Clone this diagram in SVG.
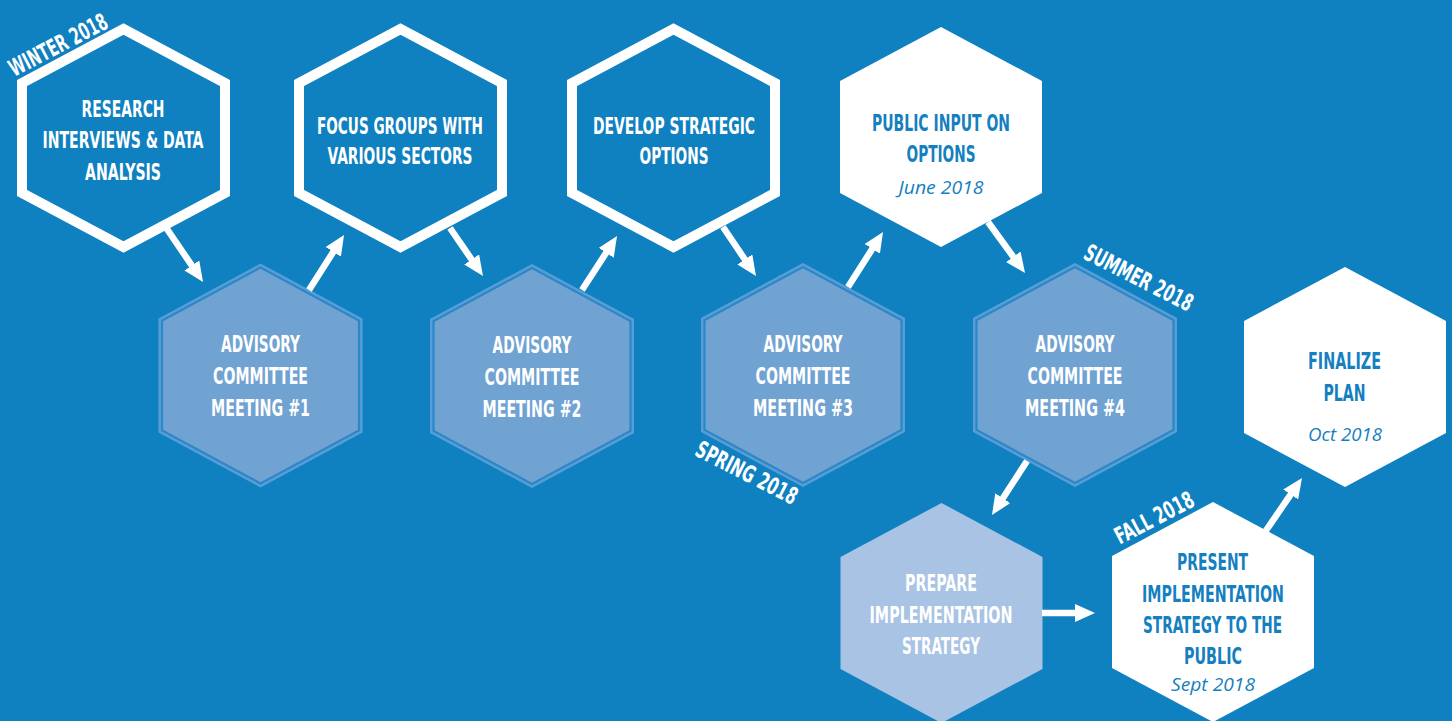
<svg xmlns="http://www.w3.org/2000/svg" width="1452" height="721" viewBox="0 0 1452 721">
<style>
.bg{fill:#0f80c0}
.hexO{fill:none;stroke:#ffffff;stroke-width:10;stroke-linejoin:miter}
.hexW{fill:#ffffff}
.ring{fill:#5a9dd6}
.gap{fill:#2a88c8}
.adv{fill:#70a2d2}
.prep{fill:#a8c3e3}
.t{font-family:"Liberation Sans Narrow","DejaVu Sans Condensed","Liberation Sans",sans-serif;font-weight:bold;font-size:23.5px;text-anchor:middle}
.w{fill:#ffffff}
.b{fill:#157fc0}
.d{font-family:"Open Sans","Noto Sans","Liberation Sans",sans-serif;font-style:italic;font-size:17.5px;text-anchor:middle;fill:#157fc0}
.arrow{stroke:#ffffff;stroke-width:6.5;fill:none;marker-end:url(#ah)}
</style>
<defs>
<marker id="ah" markerUnits="userSpaceOnUse" viewBox="0 0 20 18" markerWidth="20" markerHeight="18" refX="8" refY="9" orient="auto">
<path d="M0,0 L20,9 L0,18 z" fill="#ffffff"/>
</marker>
<polygon id="hO" points="0,-109 101.5,-55 101.5,55 0,109 -101.5,55 -101.5,-55"/>
<polygon id="hF" points="0,-110 101,-56 101,56 0,110 -101,56 -101,-56"/>
<polygon id="hR" points="0,-112 102,-57 102,57 0,112 -102,57 -102,-57"/>
<polygon id="hG" points="0,-109.3 99.6,-55.6 99.6,55.6 0,109.3 -99.6,55.6 -99.6,-55.6"/>
<polygon id="hA" points="0,-106.8 97.4,-54.3 97.4,54.3 0,106.8 -97.4,54.3 -97.4,-54.3"/>
</defs>
<rect class="bg" x="0" y="0" width="1452" height="721"/>

<g id="research">
<use href="#hO" class="hexO" x="123.5" y="138"/>
<text class="t w" x="123" y="116.5" textLength="83" lengthAdjust="spacingAndGlyphs">RESEARCH</text>
<text class="t w" x="123" y="148" textLength="161" lengthAdjust="spacingAndGlyphs">INTERVIEWS &amp; DATA</text>
<text class="t w" x="123" y="180" textLength="76" lengthAdjust="spacingAndGlyphs">ANALYSIS</text>
</g>
<g id="focus-groups">
<use href="#hO" class="hexO" x="400.5" y="138"/>
<text class="t w" x="400" y="134" textLength="166" lengthAdjust="spacingAndGlyphs">FOCUS GROUPS WITH</text>
<text class="t w" x="400" y="164" textLength="145" lengthAdjust="spacingAndGlyphs">VARIOUS SECTORS</text>
</g>
<g id="develop-options">
<use href="#hO" class="hexO" x="673.5" y="138"/>
<text class="t w" x="674" y="134" textLength="162" lengthAdjust="spacingAndGlyphs">DEVELOP STRATEGIC</text>
<text class="t w" x="674" y="164" textLength="69" lengthAdjust="spacingAndGlyphs">OPTIONS</text>
</g>
<g id="public-input">
<use href="#hF" class="hexW" x="941" y="137"/>
<text class="t b" x="941" y="131" textLength="138" lengthAdjust="spacingAndGlyphs">PUBLIC INPUT ON</text>
<text class="t b" x="941" y="162" textLength="69" lengthAdjust="spacingAndGlyphs">OPTIONS</text>
<text class="d" x="941" y="194" textLength="85" lengthAdjust="spacingAndGlyphs">June 2018</text>
</g>

<g id="advisory-1">
<use href="#hR" class="ring" x="260.5" y="375.5"/>
<use href="#hG" class="gap" x="260.5" y="375.5"/>
<use href="#hA" class="adv" x="260.5" y="375.5"/>
<text class="t w" x="260.5" y="352" textLength="79" lengthAdjust="spacingAndGlyphs">ADVISORY</text>
<text class="t w" x="260.5" y="384" textLength="95" lengthAdjust="spacingAndGlyphs">COMMITTEE</text>
<text class="t w" x="260.5" y="416" textLength="99" lengthAdjust="spacingAndGlyphs">MEETING #1</text>
</g>
<g id="advisory-2">
<use href="#hR" class="ring" x="532" y="376"/>
<use href="#hG" class="gap" x="532" y="376"/>
<use href="#hA" class="adv" x="532" y="376"/>
<text class="t w" x="532" y="353" textLength="79" lengthAdjust="spacingAndGlyphs">ADVISORY</text>
<text class="t w" x="532" y="385" textLength="95" lengthAdjust="spacingAndGlyphs">COMMITTEE</text>
<text class="t w" x="532" y="417" textLength="99" lengthAdjust="spacingAndGlyphs">MEETING #2</text>
</g>
<g id="advisory-3">
<use href="#hR" class="ring" x="803" y="375"/>
<use href="#hG" class="gap" x="803" y="375"/>
<use href="#hA" class="adv" x="803" y="375"/>
<text class="t w" x="803" y="352" textLength="79" lengthAdjust="spacingAndGlyphs">ADVISORY</text>
<text class="t w" x="803" y="384" textLength="95" lengthAdjust="spacingAndGlyphs">COMMITTEE</text>
<text class="t w" x="803" y="416" textLength="100" lengthAdjust="spacingAndGlyphs">MEETING #3</text>
</g>
<g id="advisory-4">
<use href="#hR" class="ring" x="1075" y="375"/>
<use href="#hG" class="gap" x="1075" y="375"/>
<use href="#hA" class="adv" x="1075" y="375"/>
<text class="t w" x="1075" y="352" textLength="79" lengthAdjust="spacingAndGlyphs">ADVISORY</text>
<text class="t w" x="1075" y="384" textLength="95" lengthAdjust="spacingAndGlyphs">COMMITTEE</text>
<text class="t w" x="1075" y="416" textLength="100" lengthAdjust="spacingAndGlyphs">MEETING #4</text>
</g>

<g id="finalize-plan">
<use href="#hF" class="hexW" x="1345" y="377"/>
<text class="t b" x="1344.5" y="369" textLength="73" lengthAdjust="spacingAndGlyphs">FINALIZE</text>
<text class="t b" x="1344.5" y="401" textLength="42" lengthAdjust="spacingAndGlyphs">PLAN</text>
<text class="d" x="1345" y="441" textLength="74" lengthAdjust="spacingAndGlyphs">Oct 2018</text>
</g>
<g id="prepare-strategy">
<use href="#hF" class="prep" x="941.5" y="613"/>
<text class="t w" x="941" y="591" textLength="72" lengthAdjust="spacingAndGlyphs">PREPARE</text>
<text class="t w" x="941" y="623" textLength="143" lengthAdjust="spacingAndGlyphs">IMPLEMENTATION</text>
<text class="t w" x="941" y="654" textLength="78" lengthAdjust="spacingAndGlyphs">STRATEGY</text>
</g>
<g id="present-strategy">
<use href="#hF" class="hexW" x="1213" y="612"/>
<text class="t b" x="1212.5" y="570" textLength="71" lengthAdjust="spacingAndGlyphs">PRESENT</text>
<text class="t b" x="1213" y="601.5" textLength="142" lengthAdjust="spacingAndGlyphs">IMPLEMENTATION</text>
<text class="t b" x="1212.5" y="633" textLength="139" lengthAdjust="spacingAndGlyphs">STRATEGY TO THE</text>
<text class="t b" x="1213" y="664" textLength="58" lengthAdjust="spacingAndGlyphs">PUBLIC</text>
<text class="d" x="1213" y="691" textLength="84" lengthAdjust="spacingAndGlyphs">Sept 2018</text>
</g>

<g id="season-labels">
<text class="t w" transform="translate(62,52) rotate(-27.5)" textLength="108" lengthAdjust="spacingAndGlyphs">WINTER 2018</text>
<text class="t w" transform="translate(743,480) rotate(27)" textLength="111" lengthAdjust="spacingAndGlyphs">SPRING 2018</text>
<text class="t w" transform="translate(1135,285) rotate(27)" textLength="119" lengthAdjust="spacingAndGlyphs">SUMMER 2018</text>
<text class="t w" transform="translate(1158,525) rotate(-27.5)" textLength="86" lengthAdjust="spacingAndGlyphs">FALL 2018</text>
</g>

<g id="connectors">
<line class="arrow" x1="167" y1="229" x2="196.3" y2="272.1"/>
<line class="arrow" x1="309" y1="290" x2="337.6" y2="245.1"/>
<line class="arrow" x1="450" y1="228" x2="476.2" y2="266.1"/>
<line class="arrow" x1="582" y1="290" x2="610.5" y2="246.1"/>
<line class="arrow" x1="723" y1="227" x2="749.3" y2="266"/>
<line class="arrow" x1="848" y1="287" x2="876.6" y2="242.1"/>
<line class="arrow" x1="988" y1="222" x2="1018" y2="263.3"/>
<line class="arrow" x1="1027" y1="461" x2="998.5" y2="504.9"/>
<line class="arrow" x1="1042" y1="613" x2="1083" y2="613"/>
<line class="arrow" x1="1265" y1="532" x2="1295.2" y2="487.9"/>
</g>
</svg>
